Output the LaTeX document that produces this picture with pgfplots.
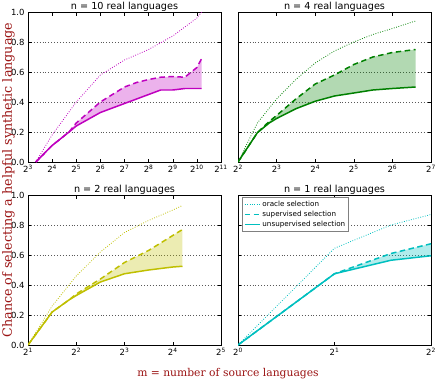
\documentclass[border=0pt]{standalone}
\usepackage{pgfplots}
\pgfplotsset{compat=1.18}
\usepackage{fontspec}
\setmainfont{DejaVu Sans}
\newfontfamily\labelfont{DejaVu Serif}
\definecolor{pmag}{rgb}{0.75,0,0.75}
\definecolor{pgrn}{rgb}{0,0.5,0}
\definecolor{pyel}{rgb}{0.75,0.75,0}
\definecolor{pcyn}{rgb}{0,0.75,0.75}
\definecolor{labred}{RGB}{155,20,20}
\pgfplotsset{
  every axis/.append style={
    scale only axis, width=193bp, height=150bp,
    ymin=0, ymax=1,
    ytick={0,0.2,0.4,0.6,0.8,1.0},
    tick align=inside, major tick length=3.5bp,
    xtick pos=both, ytick pos=both,
    ymajorgrids, grid style={black!65, dash pattern=on 0.7bp off 2.2bp, line width=0.45pt},
    axis line style={black, line width=0.6pt},
    tick style={black, line width=0.5pt},
    ticklabel style={font=\fontsize{8.5}{9}\selectfont},
  },
  gdot/.style={color=#1, line width=0.8pt, dash pattern=on 0.8bp off 1.6bp},
  gdsh/.style={color=#1, line width=1.5pt, dash pattern=on 5.5bp off 3.5bp},
  gsol/.style={color=#1, line width=1.5pt},
  gfill/.style={draw=none, fill=#1, fill opacity=0.3, forget plot},
}
\tikzset{ptitle/.style={anchor=base, font=\fontsize{9.7}{10}\selectfont, yshift=2.5bp, inner sep=0pt}}
\begin{document}
\begin{tikzpicture}
\path[use as bounding box] (0bp,0bp) rectangle (436bp,-382bp);
% top-left n=10
\begin{axis}[name=tl, anchor=north west, at={(28bp,-12bp)}, xmode=log, log basis x=2,
  yticklabels={0.0,0.2,0.4,0.6,0.8,1.0},
  xmin=8, xmax=2048,
  xtick={8,16,32,64,128,256,512,1024,2048},
  xticklabels={2\textsuperscript{3},2\textsuperscript{4},2\textsuperscript{5},2\textsuperscript{6},2\textsuperscript{7},2\textsuperscript{8},2\textsuperscript{9},2\textsuperscript{10},2\textsuperscript{11}}]
\addplot[gfill=pmag] coordinates {(16,0.11) (26,0.20) (32,0.26) (64,0.40) (128,0.50) (181,0.53) (256,0.55) (362,0.565) (512,0.57) (724,0.565) (1024,0.63) (1176,0.69)
 (1176,0.49) (1024,0.49) (724,0.49) (512,0.48) (362,0.48) (256,0.45) (128,0.39) (64,0.33) (32,0.24) (26,0.20) (16,0.11)};
\addplot[gdot=pmag] coordinates {(10,0) (16,0.18) (32,0.40) (64,0.58) (128,0.68) (256,0.75) (512,0.84) (1024,0.96) (1176,1.0)};
\addplot[gdsh=pmag] coordinates {(10,0) (16,0.11) (26,0.20) (32,0.26) (64,0.40) (128,0.50) (181,0.53) (256,0.55) (362,0.565) (512,0.57) (724,0.565) (1024,0.63) (1176,0.69)};
\addplot[gsol=pmag] coordinates {(10,0) (16,0.11) (26,0.20) (32,0.24) (64,0.33) (128,0.39) (256,0.45) (362,0.48) (512,0.48) (724,0.49) (1024,0.49) (1176,0.49)};
\end{axis}
% top-right n=4
\begin{axis}[name=tr, anchor=north west, at={(238bp,-12bp)}, xmode=log, log basis x=2,
  xmin=4, xmax=128, yticklabels={},
  xtick={4,8,16,32,64,128},
  xticklabels={2\textsuperscript{2},2\textsuperscript{3},2\textsuperscript{4},2\textsuperscript{5},2\textsuperscript{6},2\textsuperscript{7}}]
\addplot[gfill=pgrn] coordinates {(5.66,0.195) (7,0.27) (8,0.31) (11.3,0.42) (16,0.52) (22.6,0.58) (32,0.65) (45,0.70) (64,0.73) (97,0.75)
 (97,0.50) (64,0.49) (45,0.48) (32,0.46) (22.6,0.44) (16,0.405) (11.3,0.355) (8,0.29) (7,0.26) (5.66,0.195)};
\addplot[gdot=pgrn] coordinates {(4,0) (5.66,0.26) (8,0.42) (11.3,0.55) (16,0.66) (22.6,0.74) (32,0.80) (45,0.85) (64,0.89) (97,0.94)};
\addplot[gdsh=pgrn] coordinates {(4,0) (5.66,0.195) (7,0.27) (8,0.31) (11.3,0.42) (16,0.52) (22.6,0.58) (32,0.65) (45,0.70) (64,0.73) (97,0.75)};
\addplot[gsol=pgrn] coordinates {(4,0) (5.66,0.195) (7,0.26) (8,0.29) (11.3,0.355) (16,0.405) (22.6,0.44) (32,0.46) (45,0.48) (64,0.49) (97,0.50)};
\end{axis}
% bottom-left n=2
\begin{axis}[name=bl, anchor=north west, at={(28bp,-195bp)}, xmode=log, log basis x=2,
  yticklabels={0.0,0.2,0.4,0.6,0.8,1.0},
  xmin=2, xmax=32,
  xtick={2,4,8,16,32},
  xticklabels={2\textsuperscript{1},2\textsuperscript{2},2\textsuperscript{3},2\textsuperscript{4},2\textsuperscript{5}}]
\addplot[gfill=pyel] coordinates {(3.6,0.30) (4,0.34) (5.66,0.44) (8,0.55) (11.3,0.63) (16,0.73) (18.4,0.77)
 (18.4,0.525) (16,0.52) (11.3,0.50) (8,0.475) (5.66,0.42) (4,0.33) (3.6,0.30)};
\addplot[gdot=pyel] coordinates {(2,0) (2.83,0.26) (4,0.46) (5.66,0.62) (8,0.75) (11.3,0.83) (16,0.90) (18.4,0.93)};
\addplot[gdsh=pyel] coordinates {(2,0) (2.83,0.22) (3.6,0.30) (4,0.34) (5.66,0.44) (8,0.55) (11.3,0.63) (16,0.73) (18.4,0.77)};
\addplot[gsol=pyel] coordinates {(2,0) (2.83,0.22) (3.6,0.30) (4,0.33) (5.66,0.42) (8,0.475) (11.3,0.50) (16,0.52) (18.4,0.525)};
\end{axis}
% bottom-right n=1
\begin{axis}[name=br, anchor=north west, at={(238bp,-195bp)}, xmode=log, log basis x=2,
  xmin=1, xmax=4, yticklabels={},
  xtick={1,2,4},
  xticklabels={2\textsuperscript{0},2\textsuperscript{1},2\textsuperscript{2}},
  legend style={at={(0.02,0.985)}, anchor=north west, draw=gray, line width=1.2pt,
    font=\fontsize{7.2}{8}\selectfont, inner sep=1.5bp, row sep=-1.2bp},
  legend image code/.code={\draw[#1] (0bp,0bp) -- (15bp,0bp);},
  legend cell align=left]
\addlegendimage{gdot=pcyn, line width=1pt}
\addlegendentry{oracle selection}
\addlegendimage{gdsh=pcyn}
\addlegendentry{supervised selection}
\addlegendimage{gsol=pcyn}
\addlegendentry{unsupervised selection}
\addplot[gfill=pcyn] coordinates {(2,0.475) (3,0.61) (4,0.675) (4,0.595) (3,0.565) (2,0.475)};
\addplot[gdot=pcyn, forget plot] coordinates {(1,0) (2,0.645) (3,0.80) (4,0.87)};
\addplot[gdsh=pcyn, forget plot] coordinates {(1,0) (2,0.475) (3,0.61) (4,0.675)};
\addplot[gsol=pcyn, forget plot] coordinates {(1,0) (2,0.475) (3,0.565) (4,0.595)};
\end{axis}
\node[ptitle] at (tl.north) {n = 10 real languages};
\node[ptitle] at (tr.north) {n = 4 real languages};
\node[ptitle] at (bl.north) {n = 2 real languages};
\node[ptitle] at (br.north) {n = 1 real languages};
\node[text=labred, font=\labelfont\fontsize{12.8}{13}\selectfont, rotate=90, anchor=north, inner sep=1bp] at (1bp,-180bp) {Chance of selecting a helpful synthetic language};
\node[text=labred, font=\labelfont\fontsize{10.8}{11}\selectfont] at (228bp,-374bp) {m = number of source languages};
\end{tikzpicture}
\end{document}
